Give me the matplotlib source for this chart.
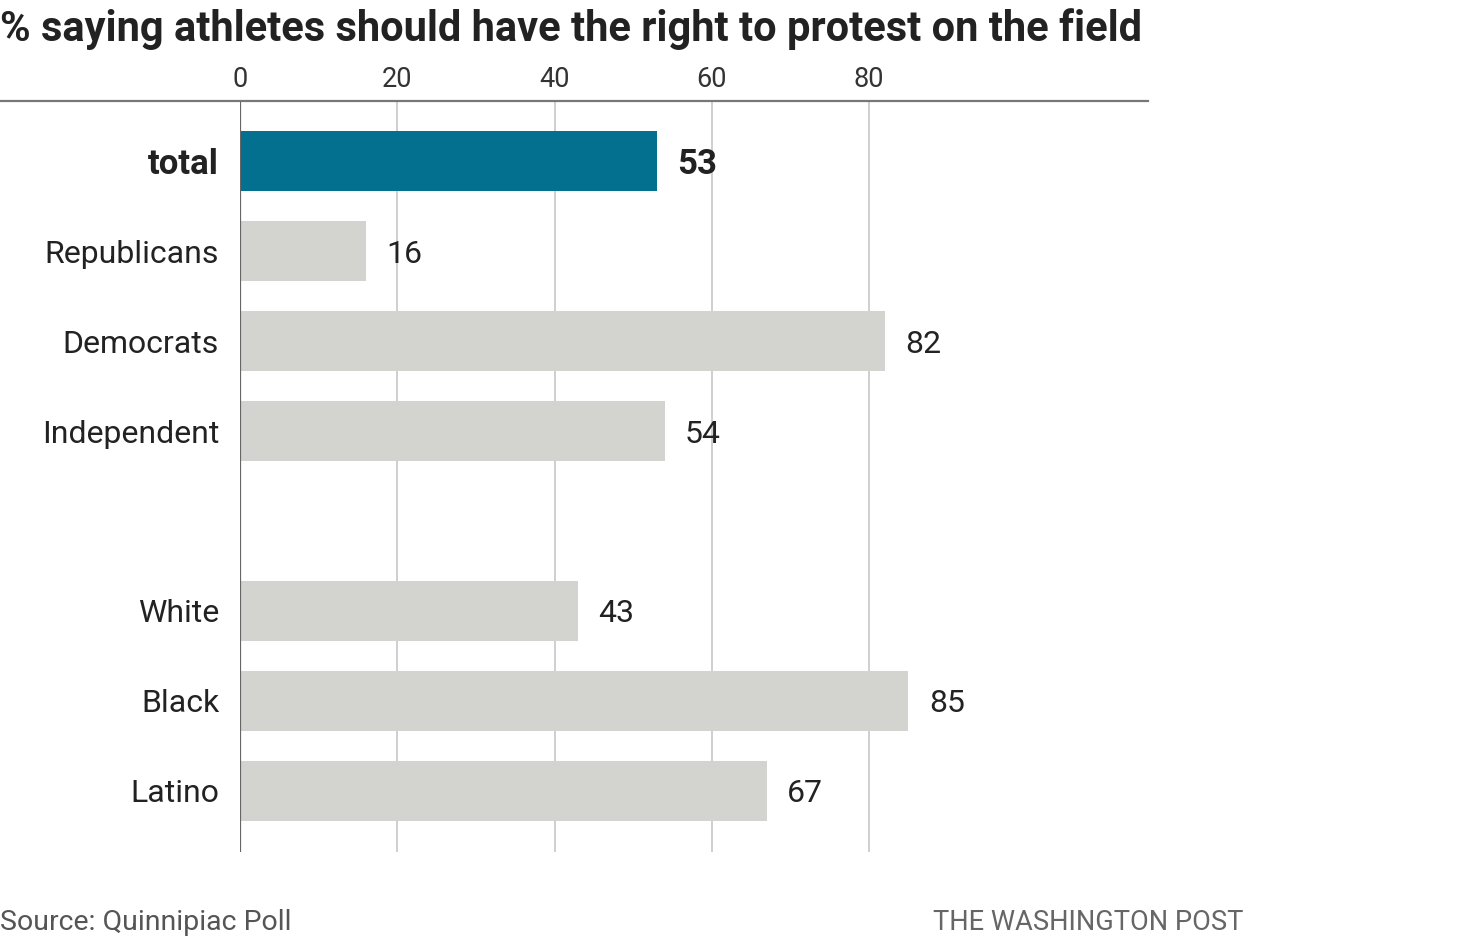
import matplotlib
matplotlib.use("Agg")
import matplotlib.pyplot as plt
from matplotlib.lines import Line2D

categories = ["total", "Republicans", "Democrats", "Independent", "White", "Black", "Latino"]
values = [53, 16, 82, 54, 43, 85, 67]
positions = [0, 1, 2, 3, 5, 6, 7]
ticks = [0, 20, 40, 60, 80]

plt.rcParams['font.family'] = ['Roboto', 'DejaVu Sans']

W, H = 1484, 950
fig = plt.figure(figsize=(W / 100, H / 100), dpi=100)
left, right, top, bottom = 240, 1148, 101, 852
ax = fig.add_axes([left / W, 1 - bottom / H, (right - left) / W, (bottom - top) / H])

teal = "#03708f"
gray = "#d3d3cf"
colors = [teal] + [gray] * (len(values) - 1)
ax.barh(positions, values, height=0.667, color=colors, zorder=2)

ax.set_xlim(0, (right - left) / 7.8625)
ax.set_ylim(7.678, -0.667)
ax.set_xticks(ticks)
ax.xaxis.tick_top()
ax.tick_params(axis='x', length=0, pad=6, labelsize=19.5, labelcolor="#333333")
ax.set_yticks(positions)
ax.set_yticklabels(categories)
ax.tick_params(axis='y', length=0, pad=15, labelsize=23, labelcolor="#222222")
ax.get_yticklabels()[0].set_fontweight('bold')
ax.get_yticklabels()[0].set_fontsize(25)
for t in ticks[1:]:
    ax.axvline(t, color="#cccccc", lw=1.3, zorder=1)
ax.axvline(0, color="#666666", lw=1.6, zorder=3)
for s in ax.spines.values():
    s.set_visible(False)

for i, (p, v) in enumerate(zip(positions, values)):
    ax.text(v + 2.6, p, str(v), va='center_baseline', ha='left',
            fontsize=25 if i == 0 else 23,
            color="#222222", fontweight='bold' if i == 0 else 'normal')

fig.add_artist(Line2D([0, right / W], [1 - top / H, 1 - top / H], color="#777777", lw=1.6))

fig.text(0, 1 - 29 / H, "% saying athletes should have the right to protest on the field",
         ha='left', va='center', fontsize=30, fontweight='bold', color="#222222")
fig.text(0, 1 - 923 / H, "Source: Quinnipiac Poll", ha='left', va='center', fontsize=20.5, color="#555555")
fig.text(1243 / W, 1 - 923 / H, "THE WASHINGTON POST", ha='right', va='center', fontsize=19.6, color="#666666")

fig.savefig("out.png", dpi=100)
